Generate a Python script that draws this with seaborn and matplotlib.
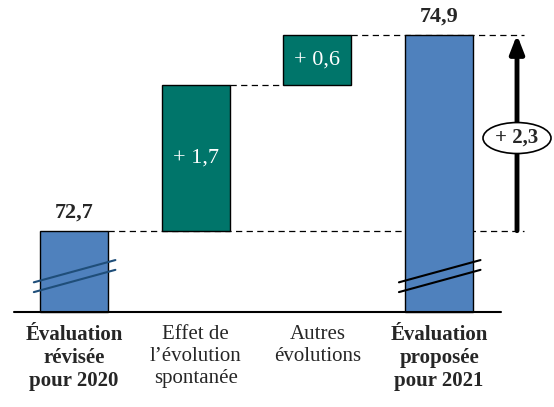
import matplotlib
matplotlib.use('Agg')
import matplotlib.pyplot as plt
import matplotlib.patches as mpatches
import seaborn as sns
import pandas as pd

# Data
categories = ['Évaluation\nrévisée\npour 2020', 'Effet de\nl\u2019évolution\nspontanée',
              'Autres\névolutions', 'Évaluation\nproposée\npour 2021']
bottoms = [71.79, 72.70, 74.33, 71.79]
tops = [72.70, 74.33, 74.90, 74.90]
bar_labels = ['72,7', '+ 1,7', '+ 0,6', '74,9']
total_change = '+ 2,3'

BLUE = '#4F81BD'
GREEN = '#00756A'

sns.set_theme(style='white')
plt.rcParams['font.family'] = ['Liberation Serif', 'DejaVu Serif']

df = pd.DataFrame({'cat': categories,
                   'height': [t - b for t, b in zip(tops, bottoms)],
                   'bottom': bottoms})

fig = plt.figure(figsize=(5.54, 4.07), dpi=100)
ax = fig.add_axes([0, 0, 1, 1])

sns.barplot(data=df, x='cat', y='height', bottom=df['bottom'], width=0.56,
            color=BLUE, edgecolor='black', linewidth=1, ax=ax, zorder=3)
colors = [BLUE, GREEN, GREEN, BLUE]
for p, c in zip(ax.patches, colors):
    p.set_facecolor(c)

ax.set_xlim(-0.608, 3.944)
ax.set_ylim(70.72, 75.29)
ax.axis('off')

hw = 0.28
# baseline
base = bottoms[0]
ax.plot([-0.49, 3.51], [base, base], color='black', lw=1.5, zorder=4, clip_on=False)

# connectors
dash = (0, (5, 3.5))
ax.plot([0 + hw, 3.7], [tops[0], tops[0]], ls=dash, color='black', lw=0.9, zorder=1)
ax.plot([1 + hw, 2 - hw], [tops[1], tops[1]], ls=dash, color='black', lw=0.9, zorder=1)
ax.plot([2 + hw, 3.7], [tops[2], tops[2]], ls=dash, color='black', lw=0.9, zorder=1)

# arrow for total change
ax_x = 3.64
ax.annotate('', xy=(ax_x, tops[3]), xytext=(ax_x, tops[0]),
            arrowprops=dict(arrowstyle='-|>,head_length=0.9,head_width=0.35',
                            color='black', lw=3.5, shrinkA=0, shrinkB=0), zorder=5)
ymid = (tops[0] + tops[3]) / 2 - 0.06
ell = mpatches.Ellipse((ax_x, ymid), width=68 / 121.7, height=31 / 89.1,
                       facecolor='white', edgecolor='black', lw=1.2, zorder=6)
ax.add_patch(ell)
ax.text(ax_x, ymid, total_change, ha='center', va='center', fontsize=15,
        fontweight='bold', zorder=7)

# value labels
ax.text(0, tops[0] + 0.09, bar_labels[0], ha='center', va='bottom', fontsize=16, fontweight='bold')
ax.text(3, tops[3] + 0.09, bar_labels[3], ha='center', va='bottom', fontsize=16, fontweight='bold')
for i in (1, 2):
    ax.text(i, (bottoms[i] + tops[i]) / 2, bar_labels[i], ha='center', va='center',
            fontsize=16, color='white', zorder=5)

# axis-break marks
for i, col in ((0, '#1F4E79'), (3, 'black')):
    for off in (0.0, 0.11):
        y0 = base + 0.33 - off
        ax.plot([i - 0.33, i + 0.34], [y0, y0 + 0.25], color=col, lw=1.5, zorder=5)

# category labels
for i, lab in enumerate(categories):
    bold = i in (0, 3)
    ax.text(i, base - 0.15, lab, ha='center', va='top', fontsize=15,
            fontweight='bold' if bold else 'normal', linespacing=1.2)

fig.savefig('out.png', dpi=100)
